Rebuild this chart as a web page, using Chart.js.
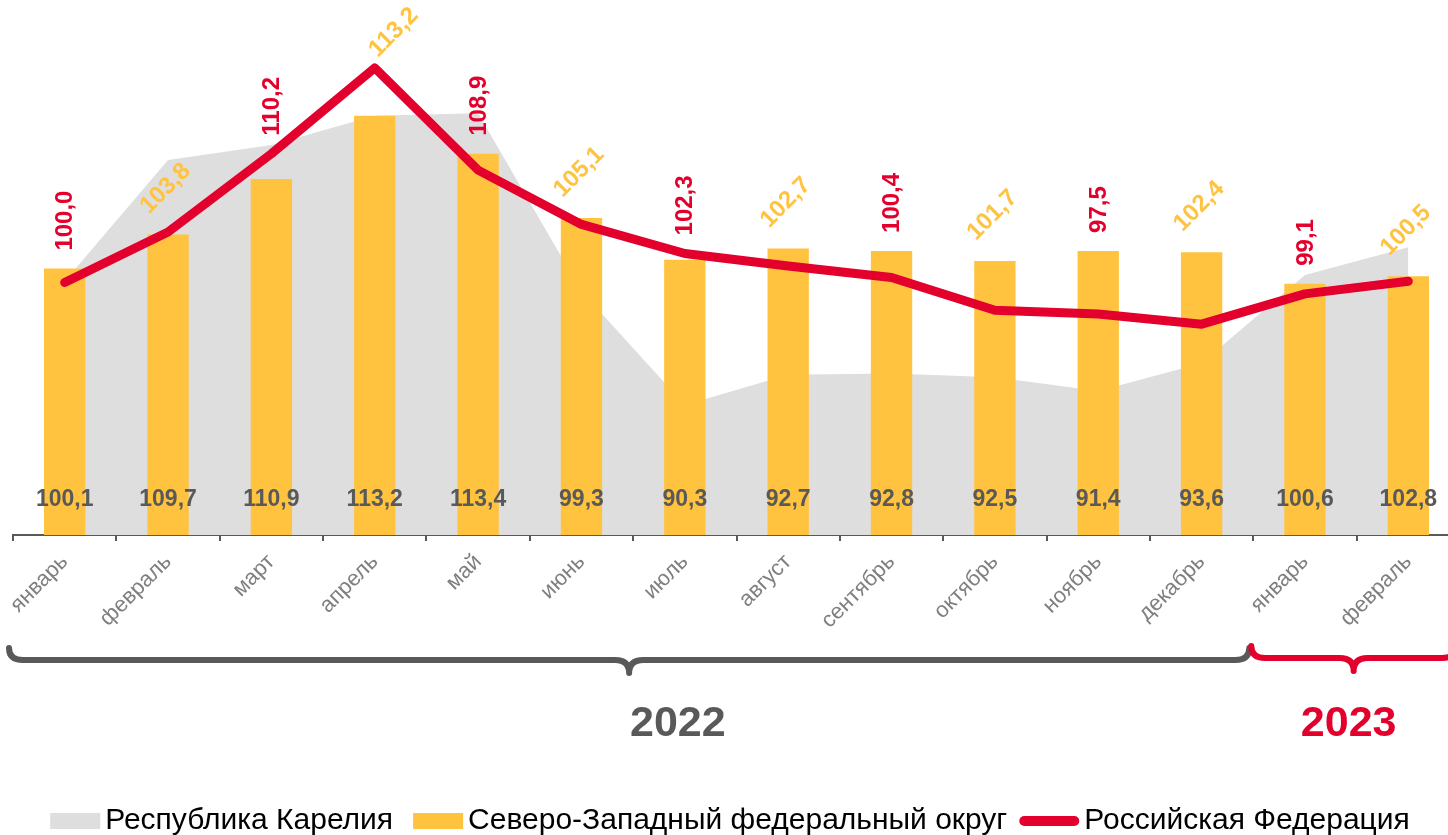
<!DOCTYPE html>
<html>
<head>
<meta charset="utf-8">
<script src="https://cdn.jsdelivr.net/npm/chart.js@4"></script>
<style>
  html, body { margin: 0; padding: 0; overflow: hidden; background: #fff; }
  canvas { position: absolute; left: 0; top: 0; }
</style>
</head>
<body>
<canvas id="chart" width="1460" height="835"></canvas>
<script>
var MONTHS = ['январь', 'февраль', 'март', 'апрель', 'май', 'июнь', 'июль', 'август',
  'сентябрь', 'октябрь', 'ноябрь', 'декабрь', 'январь', 'февраль'];

// Республика Карелия (серая область)
var KARELIA = [100.1, 109.7, 110.9, 113.2, 113.4, 99.3, 90.3, 92.7, 92.8, 92.5, 91.4, 93.6, 100.6, 102.8];
// Северо-Западный федеральный округ (столбцы)
var SZFO = [101.1, 103.8, 108.2, 113.2, 110.2, 105.1, 101.8, 102.7, 102.5, 101.7, 102.5, 102.4, 99.9, 100.5];
// Российская Федерация (линия)
var RF = [100.0, 104.0, 110.2, 117.0, 108.9, 104.6, 102.3, 101.3, 100.4, 97.8, 97.5, 96.7, 99.1, 100.1];

var YEARS = ['2022', '2023'];
var YEAR_SPANS = [[0, 11], [12, 13]];
var LEGEND_LABELS = ['Республика Карелия', 'Северо-Западный федеральный округ', 'Российская Федерация'];

var GREY = '#dedede';
var YELLOW = '#ffc340';
var RED = '#e3002c';
var DARK = '#595959';
var FONT = '"Liberation Sans", Arial, sans-serif';

function fmt(v) { return v.toFixed(1).replace('.', ','); }

function drawBrace(ctx, a, b, yh, color) {
  var c = (a + b) / 2;
  var r = 14;
  ctx.beginPath();
  ctx.moveTo(a, yh - 12);
  ctx.quadraticCurveTo(a, yh, a + r, yh);
  ctx.lineTo(c - r, yh);
  ctx.quadraticCurveTo(c, yh, c, yh + 13);
  ctx.quadraticCurveTo(c, yh, c + r, yh);
  ctx.lineTo(b - r, yh);
  ctx.quadraticCurveTo(b, yh, b, yh - 12);
  ctx.strokeStyle = color;
  ctx.lineWidth = 6;
  ctx.lineCap = 'round';
  ctx.lineJoin = 'round';
  ctx.stroke();
}

var overlayPlugin = {
  id: 'overlay',
  afterDraw: function (chart) {
    var ctx = chart.ctx;
    var xs = chart.scales.x;
    var ys = chart.scales.y;
    var area = chart.chartArea;
    var step = xs.getPixelForValue(1) - xs.getPixelForValue(0);
    ctx.save();

    // Karelia values along the bottom
    ctx.font = 'bold 23px ' + FONT;
    ctx.fillStyle = DARK;
    ctx.textAlign = 'center';
    ctx.textBaseline = 'middle';
    KARELIA.forEach(function (v, i) {
      ctx.fillText(fmt(v), xs.getPixelForValue(i), area.bottom - 35);
    });

    // labels above the bars / line
    ctx.font = 'bold 24px ' + FONT;
    for (var i = 0; i < MONTHS.length; i++) {
      var cx = xs.getPixelForValue(i);
      var barTop = ys.getPixelForValue(SZFO[i]);
      var lineY = ys.getPixelForValue(RF[i]);
      ctx.save();
      if (i % 2 === 0) {
        ctx.fillStyle = RED;
        ctx.translate(cx + 1, Math.min(barTop, lineY) - 18);
        ctx.rotate(-Math.PI / 2);
        ctx.textAlign = 'left';
        ctx.textBaseline = 'middle';
        ctx.fillText(fmt(RF[i]), 0, 0);
      } else {
        var ax = cx - 19, ay = barTop - 20;
        if (lineY - 10 < barTop - 20) { ax = cx + 3; ay = lineY - 10; }
        ctx.fillStyle = YELLOW;
        ctx.translate(ax, ay);
        ctx.rotate(-Math.PI / 4);
        ctx.textAlign = 'left';
        ctx.textBaseline = 'alphabetic';
        ctx.fillText(fmt(SZFO[i]), 0, 0);
      }
      ctx.restore();
    }

    // year braces
    var braceColors = [DARK, RED];
    YEAR_SPANS.forEach(function (span, k) {
      var a = xs.getPixelForValue(span[0]) - step / 2;
      var b = xs.getPixelForValue(span[1]) + step / 2;
      drawBrace(ctx, a + (k === 0 ? -4 : -2), b - 4, k === 0 ? 660 : 658, braceColors[k]);
    });

    ctx.font = 'bold 43px ' + FONT;
    ctx.textAlign = 'center';
    ctx.textBaseline = 'middle';
    ctx.fillStyle = DARK;
    ctx.fillText(YEARS[0], xs.getPixelForValue(6) - 7, 724);
    ctx.fillStyle = RED;
    ctx.fillText(YEARS[1], xs.getPixelForValue(12.5) - 8, 724);

    // legend
    ctx.font = '30px ' + FONT;
    ctx.textBaseline = 'middle';
    ctx.textAlign = 'left';
    var ly = 821;
    var w = LEGEND_LABELS.map(function (t) { return ctx.measureText(t).width; });
    var total = 50 + 5 + w[0] + 20 + 50 + 5 + w[1] + 12 + 60 + 5 + w[2];
    var lx = 730 - total / 2;
    ctx.fillStyle = GREY;
    ctx.fillRect(lx, ly - 8, 50, 16);
    ctx.fillStyle = '#000';
    ctx.fillText(LEGEND_LABELS[0], lx + 55, ly);
    lx += 55 + w[0] + 20;
    ctx.fillStyle = YELLOW;
    ctx.fillRect(lx, ly - 8, 50, 16);
    ctx.fillStyle = '#000';
    ctx.fillText(LEGEND_LABELS[1], lx + 55, ly);
    lx += 55 + w[1] + 12;
    ctx.beginPath();
    ctx.moveTo(lx + 5, ly);
    ctx.lineTo(lx + 55, ly);
    ctx.strokeStyle = RED;
    ctx.lineWidth = 10;
    ctx.lineCap = 'round';
    ctx.stroke();
    ctx.fillStyle = '#000';
    ctx.fillText(LEGEND_LABELS[2], lx + 65, ly);

    ctx.restore();
  }
};

new Chart(document.getElementById('chart').getContext('2d'), {
  data: {
    labels: MONTHS,
    datasets: [{
      type: 'line',
      label: LEGEND_LABELS[2],
      data: RF,
      borderColor: RED,
      borderWidth: 9,
      borderCapStyle: 'round',
      borderJoinStyle: 'round',
      pointRadius: 0,
      tension: 0,
      order: 0,
    }, {
      type: 'bar',
      label: LEGEND_LABELS[1],
      data: SZFO,
      backgroundColor: YELLOW,
      barPercentage: 0.4,
      categoryPercentage: 1.0,
      order: 1,
    }, {
      type: 'line',
      label: LEGEND_LABELS[0],
      data: KARELIA,
      backgroundColor: GREY,
      borderWidth: 0,
      fill: 'start',
      pointRadius: 0,
      tension: 0,
      order: 2,
    }],
  },
  options: {
    responsive: false,
    animation: false,
    layout: { padding: { top: 30, left: 13, right: 0, bottom: 0 } },
    scales: {
      x: {
        offset: true,
        border: { color: DARK, width: 2 },
        grid: { offset: true, drawOnChartArea: false, tickLength: 6, color: DARK, lineWidth: 2 },
        ticks: {
          color: '#7f7f7f',
          font: { family: FONT, size: 22 },
          minRotation: 45,
          maxRotation: 45,
          padding: 8,
        },
        afterFit: function (scale) {
          scale.height = 300;
          scale.paddingLeft = 0;
          scale.paddingRight = 0;
        },
      },
      y: { display: false, min: 80, max: 120 },
    },
    plugins: {
      legend: { display: false },
      tooltip: { enabled: false },
    },
  },
  plugins: [overlayPlugin],
});
</script>
</body>
</html>
